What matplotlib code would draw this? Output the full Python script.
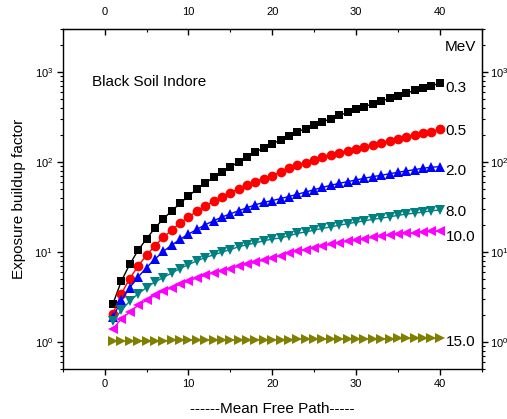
import matplotlib
matplotlib.use("Agg")
import matplotlib.pyplot as plt
from matplotlib.ticker import MultipleLocator, LogLocator, NullFormatter, LogFormatterSciNotation

plt.rcParams['font.family'] = ['Liberation Sans', 'DejaVu Sans']
plt.rcParams['mathtext.default'] = 'regular'

mfp = list(range(1, 41))

b_03 = [2.68, 4.79, 7.35, 10.5, 14.1, 18.5, 23.5, 28.7, 34.9, 42.1,
        50.0, 58.3, 68.0, 78.0, 88.7, 101, 115, 130, 144, 160,
        177, 196, 218, 237, 258, 281, 304, 331, 357, 386,
        414, 447, 479, 512, 548, 588, 628, 668, 710, 752]
b_05 = [2.07, 3.46, 5.09, 7.04, 9.26, 11.8, 14.6, 17.6, 21.1, 24.7,
        28.4, 32.6, 36.8, 41.4, 45.8, 50.8, 55.8, 60.8, 65.7, 71.0,
        78.5, 86.0, 92.0, 99.0, 106, 113, 120, 127, 134, 142,
        149, 157, 165, 174, 182, 191, 200, 211, 219, 233]
b_20 = [1.90, 2.92, 4.04, 5.30, 6.75, 8.36, 10.2, 12.0, 13.9, 15.9,
        17.9, 20.2, 22.3, 24.6, 26.7, 28.9, 31.2, 33.7, 35.8, 37.5,
        39.4, 41.6, 44.0, 46.7, 49.5, 52.6, 55.4, 58.3, 60.8, 63.5,
        66.3, 69.2, 71.5, 74.5, 77.3, 80.0, 82.7, 85.7, 88.0, 89.3]
b_80 = [1.71, 2.26, 2.86, 3.46, 4.04, 4.67, 5.22, 5.88, 6.58, 7.29,
        8.00, 8.73, 9.33, 10.0, 10.7, 11.5, 12.1, 12.7, 13.4, 14.0,
        14.4, 15.2, 16.2, 16.8, 17.6, 18.4, 19.1, 20.0, 20.7, 21.6,
        22.3, 23.2, 23.9, 24.7, 25.7, 26.5, 27.2, 27.9, 28.9, 29.4]
b_100 = [1.41, 1.82, 2.16, 2.57, 2.92, 3.32, 3.67, 4.04, 4.40, 4.79,
         5.17, 5.54, 5.88, 6.25, 6.58, 6.98, 7.35, 7.74, 8.15, 8.61,
         9.18, 9.82, 10.3, 10.7, 11.2, 11.7, 12.2, 12.7, 13.2, 13.6,
         14.1, 14.6, 15.1, 15.5, 15.9, 16.2, 16.4, 16.7, 17.0, 17.1]
b_150 = [1.03, 1.03, 1.03, 1.04, 1.04, 1.04, 1.04, 1.05, 1.05, 1.05,
         1.05, 1.05, 1.06, 1.06, 1.06, 1.06, 1.06, 1.07, 1.07, 1.07,
         1.07, 1.07, 1.08, 1.08, 1.08, 1.08, 1.08, 1.08, 1.09, 1.09,
         1.09, 1.09, 1.09, 1.09, 1.10, 1.10, 1.10, 1.10, 1.10, 1.10]

energy_labels = ['0.3', '0.5', '2.0', '8.0', '10.0', '15.0']
label_y = [664, 221, 79, 27.7, 14.6, 1.0]
series = [b_03, b_05, b_20, b_80, b_100, b_150]
colors = ['#000000', '#FF0000', '#0000FF', '#008080', '#FF00FF', '#808000']
markers = ['s', 'o', '^', 'v', '<', '>']
msizes = [6, 7, 7.5, 7.5, 7.5, 7.5]

fig = plt.figure(figsize=(5.07, 4.19), dpi=100)
ax = fig.add_axes([62.7/507, 1-369.3/419, (481.7-62.7)/507, (369.3-29.3)/419])

for ys, c, m, ms in zip(series, colors, markers, msizes):
    ax.plot(mfp, ys, color=c, marker=m, markersize=ms, linewidth=1.0,
            markeredgewidth=0)

ax.set_yscale('log')
ax.set_xlim(-5, 45)
ax.set_ylim(0.5, 3000)

ax.xaxis.set_major_locator(MultipleLocator(10))
ax.xaxis.set_minor_locator(MultipleLocator(5))
ax.yaxis.set_major_locator(LogLocator(base=10, numticks=10))
ax.yaxis.set_minor_locator(LogLocator(base=10, subs=range(2, 10), numticks=20))
ax.yaxis.set_major_formatter(LogFormatterSciNotation())
ax.yaxis.set_minor_formatter(NullFormatter())

for sp in ax.spines.values():
    sp.set_linewidth(1.0)

ax.tick_params(axis='both', which='major', direction='out', length=4, width=1.0,
               labelsize=8, pad=3)
ax.tick_params(axis='both', which='minor', direction='out', length=2.5, width=0.8)

secx = ax.secondary_xaxis('top')
secx.xaxis.set_major_locator(MultipleLocator(10))
secx.xaxis.set_minor_locator(MultipleLocator(5))
secx.tick_params(axis='x', which='major', direction='in', length=4, width=1.0,
                 labelsize=8, pad=9)
secx.tick_params(axis='x', which='minor', direction='in', length=2.5, width=0.8)

secy = ax.secondary_yaxis('right')
secy.yaxis.set_major_locator(LogLocator(base=10, numticks=10))
secy.yaxis.set_minor_locator(LogLocator(base=10, subs=range(2, 10), numticks=20))
secy.yaxis.set_major_formatter(LogFormatterSciNotation())
secy.yaxis.set_minor_formatter(NullFormatter())
secy.tick_params(axis='y', which='major', direction='out', length=4, width=1.0,
                 labelsize=8, pad=2)
secy.tick_params(axis='y', which='minor', direction='out', length=2.5, width=0.8)

ax.set_ylabel('Exposure buildup factor', fontsize=11, labelpad=6)
ax.set_xlabel('------Mean Free Path-----', fontsize=11, labelpad=9)

ax.text(0.07, 0.845, 'Black Soil Indore', transform=ax.transAxes, fontsize=11,
        va='center', ha='left')
ax.text(40.6, 1900, 'MeV', fontsize=11, va='center', ha='left')
for lab, yv in zip(energy_labels, label_y):
    ax.text(40.7, yv, lab, fontsize=11, va='center', ha='left')

fig.savefig('out.png', dpi=100)
